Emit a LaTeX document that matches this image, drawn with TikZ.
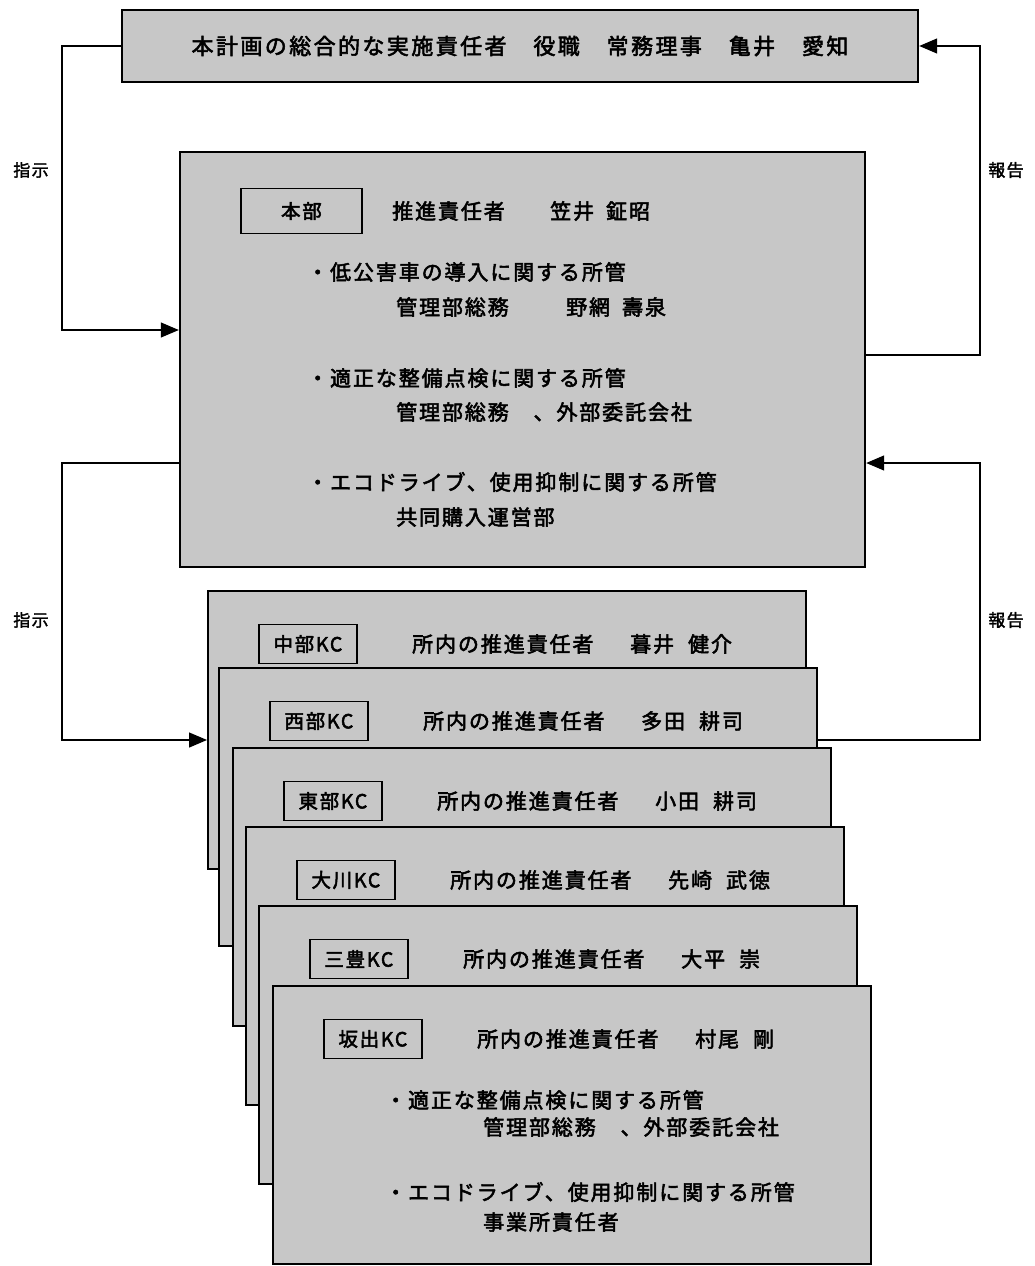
\documentclass[tikz,border=0pt]{standalone}
\usepackage{fontspec}
\setmainfont{Noto Sans CJK JP}[LetterSpace=9, AutoFakeBold=2.5]
\newfontfamily\toptext{Noto Sans CJK JP}[LetterSpace=11, AutoFakeBold=2.5]
\newfontfamily\sidetext{Noto Sans CJK JP}[LetterSpace=8, AutoFakeBold=2]
\usetikzlibrary{arrows.meta}
\definecolor{panelgray}{gray}{0.78}

\begin{document}
\begin{tikzpicture}[x=1pt, y=-1pt,
    panel/.style={draw, line width=2.4pt, fill=panelgray, inner sep=0pt},
    tag/.style={draw, line width=1.8pt, fill=panelgray, inner sep=0pt,
      minimum width=98pt, minimum height=39pt, font=\bfseries\fontsize{19.5}{22}\selectfont},
    txt/.style={anchor=west, inner sep=0pt, font=\bfseries\fontsize{21}{24}\selectfont},
    side/.style={inner sep=0pt, font=\sidetext\bfseries\fontsize{17}{20}\selectfont},
    arr/.style={line width=1.3pt, -{Triangle[length=18pt,width=15pt]}}]
    \useasboundingbox (0,0) rectangle (1035,1266);
    % top of the plan
    \node[panel, minimum width=796pt, minimum height=72pt] (plan) at (520,46)
      {\toptext\bfseries\fontsize{22}{26}\selectfont 本計画の総合的な実施責任者　役職　常務理事　亀井　愛知};
    % head office
    \node[panel, minimum width=685pt, minimum height=415pt] (honbu) at (522.5,359.5) {};
    \node[tag, minimum width=121pt, minimum height=45pt, anchor=west] (honbutag) at (240,211) {本部};
    \node[txt] (honburole) at (392,211) {推進責任者};
    \node[txt] (honbuname) at (550,211) {笠井\hspace{12pt}鉦昭};
    \node[txt] (hb1) at (307,272) {・低公害車の導入に関する所管};
    \node[txt] (hb1a) at (396,307) {管理部総務};
    \node[txt] (hb1b) at (566,307) {野網\hspace{12pt}壽泉};
    \node[txt] (hb2) at (307,378) {・適正な整備点検に関する所管};
    \node[txt] (hb2a) at (396,412) {管理部総務　、外部委託会社};
    \node[txt] (hb3) at (307,482) {・エコドライブ、使用抑制に関する所管};
    \node[txt] (hb3a) at (396,517) {共同購入運営部};
    % offices, back to front
    \foreach \i/\x/\y/\kc/\who in {1/207/590/中部KC/暮井\hspace{14pt}健介,
        2/218/667/西部KC/多田\hspace{14pt}耕司,
        3/232/747/東部KC/小田\hspace{14pt}耕司,
        4/245/826/大川KC/先崎\hspace{14pt}武徳,
        5/258/905/三豊KC/大平\hspace{14pt}崇,
        6/272/985/坂出KC/村尾\hspace{14pt}剛} {
      \node[panel, anchor=north west, minimum width=598pt, minimum height=278pt] (kc\i) at (\x,\y) {};
      \node[tag, anchor=west] (kctag\i) at (\x+51,\y+54) {\kc};
      \node[txt] (kcrole\i) at (\x+205,\y+54) {所内の推進責任者};
      \node[txt] (kcname\i) at (\x+423,\y+54) {\who};
    }
    \node[txt] (sk1) at (385,1100) {・適正な整備点検に関する所管};
    \node[txt] (sk1a) at (483,1127) {管理部総務　、外部委託会社};
    \node[txt] (sk2) at (385,1192) {・エコドライブ、使用抑制に関する所管};
    \node[txt] (sk2a) at (483,1222) {事業所責任者};
    % instructions and reports
    \coordinate (tl) at (62,330);
    \coordinate (tr) at (980,355);
    \coordinate (bl1) at (62,463);
    \coordinate (bl2) at (62,740);
    \coordinate (br1) at (980,740);
    \coordinate (br2) at (980,463);
    \draw[arr] (plan.west) -| (tl) -- (tl -| honbu.west);
    \draw[arr] (tr -| honbu.east) -- (tr) |- (plan.east);
    \draw[arr] (bl1 -| honbu.west) -- (bl1) -- (bl2) -- (bl2 -| kc1.west);
    \draw[arr] (br1 -| kc2.east) -- (br1) -- (br2) -- (br2 -| honbu.east);
    \node[side] (order1) at (31,170) {指示};
    \node[side] (order2) at (31,620) {指示};
    \node[side] (report1) at (1006,170) {報告};
    \node[side] (report2) at (1006,620) {報告};
\end{tikzpicture}
\end{document}
